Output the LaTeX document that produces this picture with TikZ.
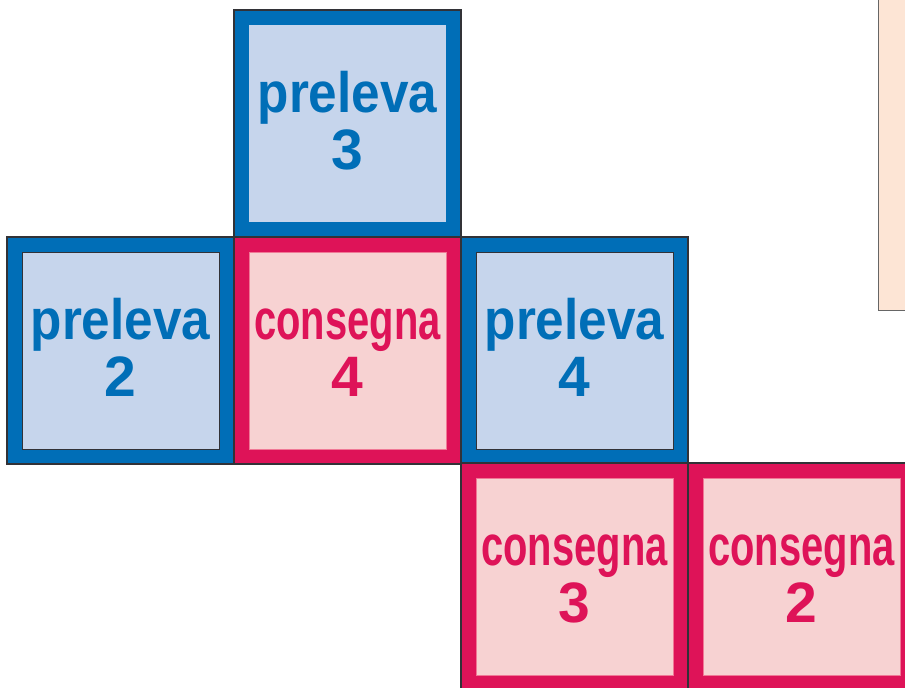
\documentclass[tikz,border=0pt]{standalone}
\usepackage{fontspec}
\usepackage{graphicx}
\setmainfont{Liberation Sans}
\definecolor{pblue}{RGB}{0,110,183}
\definecolor{lblue}{RGB}{198,213,236}
\definecolor{cred}{RGB}{222,19,88}
\definecolor{lpink}{RGB}{247,210,210}
\definecolor{lorange}{RGB}{253,229,213}
\definecolor{edge}{RGB}{50,50,55}
\definecolor{pinkedge}{RGB}{240,120,150}
\begin{document}
\begin{tikzpicture}[x=1pt,y=-1pt,
  cell/.style={draw=edge, line width=1.2pt, minimum size=227pt, inner sep=0pt, outer sep=0pt},
  bluecell/.style={cell, fill=pblue},
  redcell/.style={cell, fill=cred},
  inner/.style={minimum size=197pt, inner sep=0pt, outer sep=0pt},
  blueinner/.style={inner, fill=lblue},
  blueinnerline/.style={inner, fill=lblue, draw=edge, line width=1pt},
  redinner/.style={inner, fill=lpink, draw=pinkedge, line width=0.6pt},
  word/.style={font=\bfseries\fontsize{57}{57}\selectfont, inner sep=0pt, anchor=base},
  bword/.style={word, text=pblue},
  rword/.style={word, text=cred},
]
\useasboundingbox (0,0) rectangle (905,688);
\clip (0,0) rectangle (905,688);
% side panel (cut off at the right)
\node[draw=gray!80!black, line width=1.4pt, fill=lorange, minimum width=60pt, minimum height=330pt, inner sep=0pt, anchor=south west] (panel) at (878,311) {};
% squares
\node[bluecell] (p3) at (347.5,123.5) {};
\node[blueinner] (p3i) at (p3.center) {};
\node[bluecell] (p2) at (120.5,350.5) {};
\node[blueinnerline] (p2i) at (p2.center) {};
\node[redcell] (c4) at (347.5,350.5) {};
\node[redinner] (c4i) at (c4.center) {};
\node[bluecell] (p4) at (574.5,350.5) {};
\node[blueinnerline] (p4i) at (p4.center) {};
\node[redcell] (c3) at (574.5,576.5) {};
\node[redinner] (c3i) at (c3.center) {};
\node[redcell] (c2) at (801.5,576.5) {};
\node[redinner] (c2i) at (c2.center) {};
% labels
\node[bword] (t3a) at ([yshift=11pt]p3.center) {\scalebox{0.9}[1]{preleva}};
\node[bword] (t3b) at ([yshift=-46pt]p3.center) {3};
\node[bword] (t2a) at ([yshift=11pt]p2.center) {\scalebox{0.9}[1]{preleva}};
\node[bword] (t2b) at ([yshift=-46pt]p2.center) {2};
\node[bword] (t4a) at ([yshift=11pt]p4.center) {\scalebox{0.9}[1]{preleva}};
\node[bword] (t4b) at ([yshift=-46pt]p4.center) {4};
\node[rword] (u4a) at ([yshift=11pt]c4.center) {\scalebox{0.7}[1]{consegna}};
\node[rword] (u4b) at ([yshift=-46pt]c4.center) {4};
\node[rword] (u3a) at ([yshift=11pt]c3.center) {\scalebox{0.7}[1]{consegna}};
\node[rword] (u3b) at ([yshift=-46pt]c3.center) {3};
\node[rword] (u2a) at ([yshift=11pt]c2.center) {\scalebox{0.7}[1]{consegna}};
\node[rword] (u2b) at ([yshift=-46pt]c2.center) {2};
\end{tikzpicture}
\end{document}
